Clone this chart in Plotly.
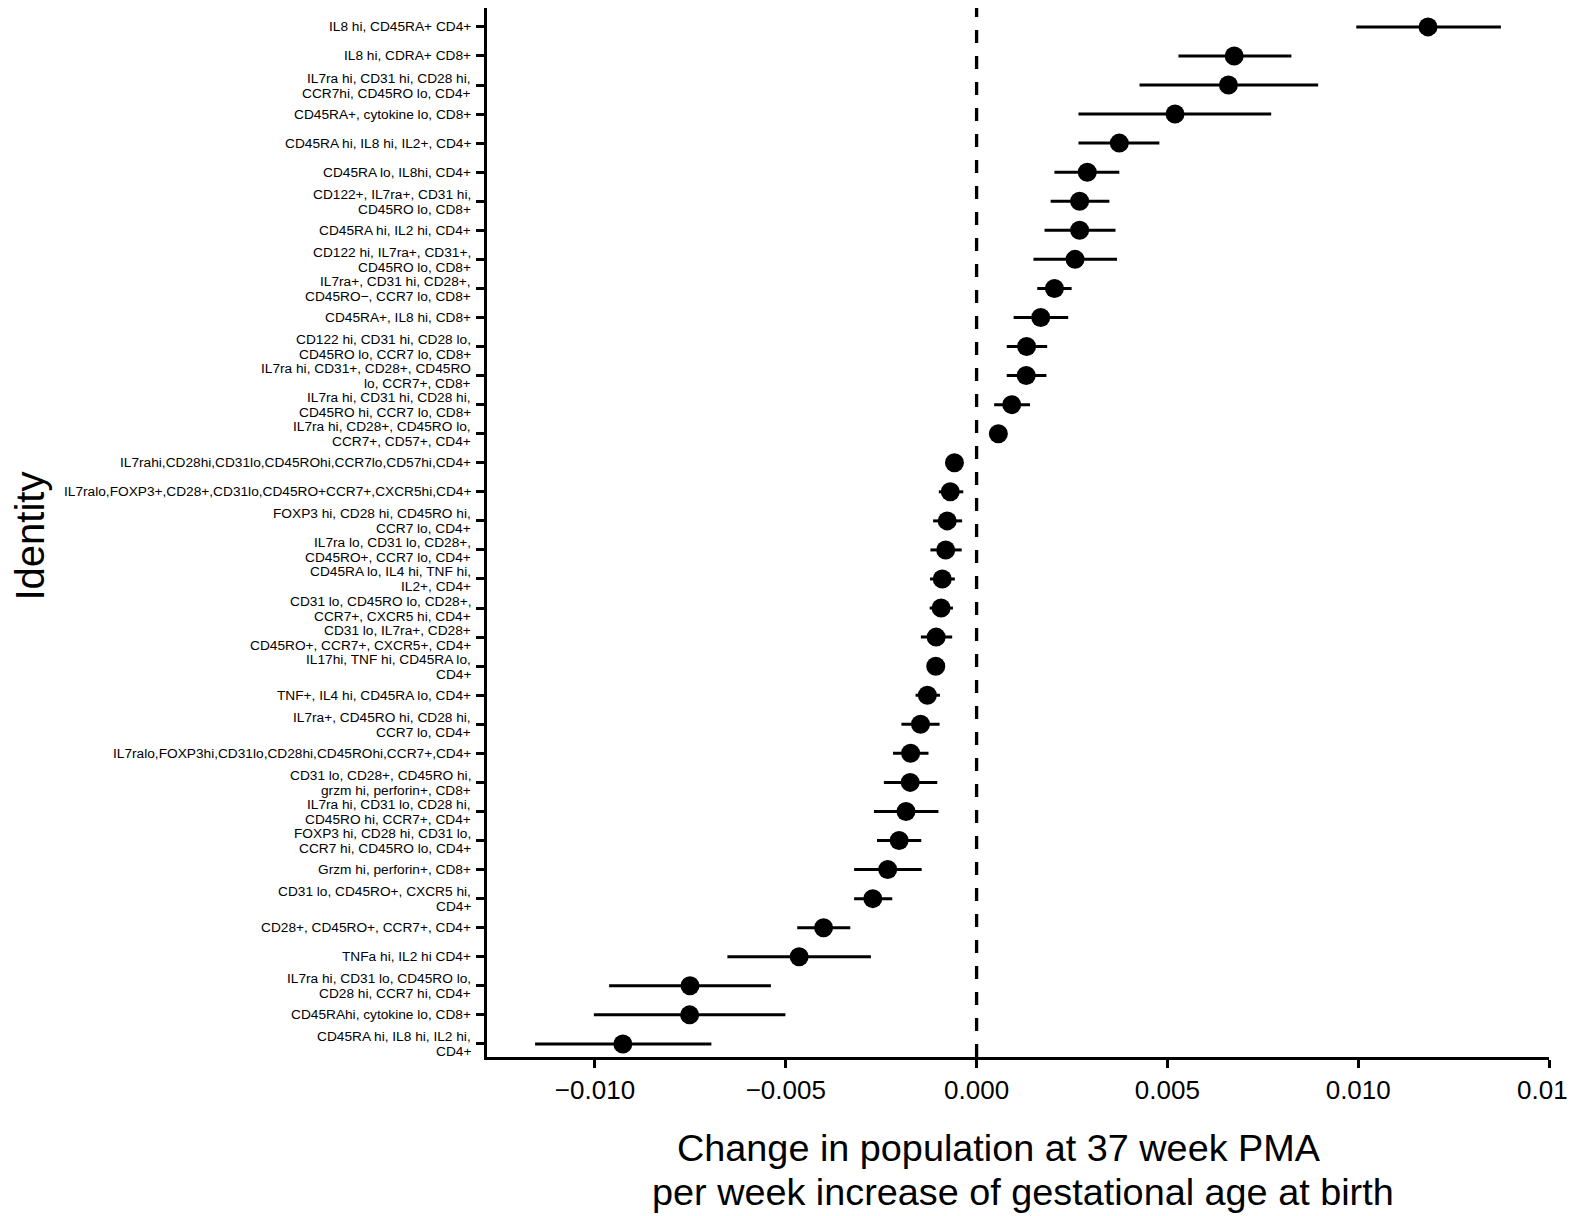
import plotly.graph_objects as go

labels = [
    "IL8 hi, CD45RA+ CD4+",
    "IL8 hi, CDRA+ CD8+",
    "IL7ra hi, CD31 hi, CD28 hi,<br>CCR7hi, CD45RO lo, CD4+",
    "CD45RA+, cytokine lo, CD8+",
    "CD45RA hi, IL8 hi, IL2+, CD4+",
    "CD45RA lo, IL8hi, CD4+",
    "CD122+, IL7ra+, CD31 hi,<br>CD45RO lo, CD8+",
    "CD45RA hi, IL2 hi, CD4+",
    "CD122 hi, IL7ra+, CD31+,<br>CD45RO lo, CD8+",
    "IL7ra+, CD31 hi, CD28+,<br>CD45RO−, CCR7 lo, CD8+",
    "CD45RA+, IL8 hi, CD8+",
    "CD122 hi, CD31 hi, CD28 lo,<br>CD45RO lo, CCR7 lo, CD8+",
    "IL7ra hi, CD31+, CD28+, CD45RO<br>lo, CCR7+, CD8+",
    "IL7ra hi, CD31 hi, CD28 hi,<br>CD45RO hi, CCR7 lo, CD8+",
    "IL7ra hi, CD28+, CD45RO lo,<br>CCR7+, CD57+, CD4+",
    "IL7rahi,CD28hi,CD31lo,CD45ROhi,CCR7lo,CD57hi,CD4+",
    "IL7ralo,FOXP3+,CD28+,CD31lo,CD45RO+CCR7+,CXCR5hi,CD4+",
    "FOXP3 hi, CD28 hi, CD45RO hi,<br>CCR7 lo, CD4+",
    "IL7ra lo, CD31 lo, CD28+,<br>CD45RO+, CCR7 lo, CD4+",
    "CD45RA lo, IL4 hi, TNF hi,<br>IL2+, CD4+",
    "CD31 lo, CD45RO lo, CD28+,<br>CCR7+, CXCR5 hi, CD4+",
    "CD31 lo, IL7ra+, CD28+<br>CD45RO+, CCR7+, CXCR5+, CD4+",
    "IL17hi, TNF hi, CD45RA lo,<br>CD4+",
    "TNF+, IL4 hi, CD45RA lo, CD4+",
    "IL7ra+, CD45RO hi, CD28 hi,<br>CCR7 lo, CD4+",
    "IL7ralo,FOXP3hi,CD31lo,CD28hi,CD45ROhi,CCR7+,CD4+",
    "CD31 lo, CD28+, CD45RO hi,<br>grzm hi, perforin+, CD8+",
    "IL7ra hi, CD31 lo, CD28 hi,<br>CD45RO hi, CCR7+, CD4+",
    "FOXP3 hi, CD28 hi, CD31 lo,<br>CCR7 hi, CD45RO lo, CD4+",
    "Grzm hi, perforin+, CD8+",
    "CD31 lo, CD45RO+, CXCR5 hi,<br>CD4+",
    "CD28+, CD45RO+, CCR7+, CD4+",
    "TNFa hi, IL2 hi CD4+",
    "IL7ra hi, CD31 lo, CD45RO lo,<br>CD28 hi, CCR7 hi, CD4+",
    "CD45RAhi, cytokine lo, CD8+",
    "CD45RA hi, IL8 hi, IL2 hi,<br>CD4+",
]

estimate = [
    0.01183, 0.00675, 0.00660, 0.00520, 0.00374, 0.00290, 0.00270, 0.00270,
    0.00258, 0.00204, 0.00168, 0.00131, 0.00130, 0.00092, 0.00057, -0.00058,
    -0.00069, -0.00077, -0.00081, -0.00090, -0.00093, -0.00106, -0.00107,
    -0.00129, -0.00147, -0.00173, -0.00174, -0.00185, -0.00203, -0.00233,
    -0.00272, -0.00401, -0.00465, -0.00751, -0.00752, -0.00927,
]
lower = [
    0.00995, 0.00529, 0.00427, 0.00267, 0.00267, 0.00204, 0.00194, 0.00178,
    0.00149, 0.00159, 0.00097, 0.00079, 0.00079, 0.00046, 0.00040, -0.00075,
    -0.00099, -0.00114, -0.00121, -0.00122, -0.00123, -0.00146, -0.00124,
    -0.00160, -0.00197, -0.00219, -0.00243, -0.00269, -0.00261, -0.00321,
    -0.00321, -0.00470, -0.00653, -0.00963, -0.01003, -0.01157,
]
upper = [
    0.01374, 0.00825, 0.00895, 0.00772, 0.00479, 0.00374, 0.00348, 0.00364,
    0.00368, 0.00249, 0.00240, 0.00185, 0.00183, 0.00140, 0.00074, -0.00041,
    -0.00035, -0.00038, -0.00039, -0.00057, -0.00062, -0.00064, -0.00090,
    -0.00096, -0.00097, -0.00126, -0.00103, -0.00100, -0.00145, -0.00144,
    -0.00221, -0.00331, -0.00277, -0.00539, -0.00501, -0.00695,
]

x_ticks = [-0.010, -0.005, 0.000, 0.005, 0.010, 0.015]
x_ticktext = ["−0.010", "−0.005", "0.000", "0.005", "0.010", "0.015"]

x_title_lines = ["Change in population at 37 week PMA",
                 "per week increase of gestational age at birth"]
y_title = "Identity"

FONT = "Liberation Sans, Arial, Helvetica, sans-serif"
LABEL_SIZE = 13.7
TICK_SIZE = 26

err_plus = [u - e for u, e in zip(upper, estimate)]
err_minus = [e - l for e, l in zip(estimate, lower)]

fig = go.Figure()
fig.add_trace(go.Scatter(
    x=estimate,
    y=labels,
    mode="markers",
    marker=dict(color="black", size=19),
    error_x=dict(type="data", symmetric=False, array=err_plus,
                 arrayminus=err_minus, color="black", thickness=3, width=0),
    showlegend=False,
    hoverinfo="x+y",
))

fig.add_shape(type="line", xref="x", yref="paper", x0=0, x1=0, y0=0, y1=1,
              line=dict(color="black", width=3.3, dash="13px,13px"), layer="below")

# category tick labels drawn as annotations (tight line spacing like the original)
annotations = []
for lab in labels:
    parts = lab.split("<br>")
    shifts = [0] if len(parts) == 1 else [7, -8]
    for part, ys in zip(parts, shifts):
        annotations.append(dict(
            text=part, xref="paper", yref="y", x=0, y=lab,
            xanchor="right", yanchor="middle", xshift=-14, yshift=ys,
            showarrow=False, align="right",
            font=dict(size=LABEL_SIZE, family=FONT, color="black"),
        ))

# last x tick label sits on the page edge (partly cut off, as in the original)
annotations.append(dict(
    text=x_ticktext[-1], xref="x", yref="paper", x=x_ticks[-1], y=0,
    xanchor="center", yanchor="middle", yshift=-33,
    showarrow=False, font=dict(size=TICK_SIZE, family=FONT, color="black"),
))

# y-axis title
annotations.append(dict(
    text=y_title, xref="paper", yref="paper", x=0, y=0.5,
    xanchor="center", yanchor="middle", xshift=-458, yshift=-4, textangle=-90,
    showarrow=False, font=dict(size=40, family=FONT, color="black"),
))

# x-axis title (two lines)
for line, xc, ys in zip(x_title_lines, [0.4821, 0.5047], [-91, -135]):
    annotations.append(dict(
        text=line, xref="paper", yref="paper", x=xc, y=0,
        xanchor="center", yanchor="middle", yshift=ys,
        showarrow=False, font=dict(size=37.8, family=FONT, color="black"),
    ))

fig.update_layout(
    width=1568, height=1208,
    margin=dict(l=479, r=27, t=0, b=159),
    plot_bgcolor="white", paper_bgcolor="white",
    font=dict(family=FONT, color="black"),
    annotations=annotations,
    xaxis=dict(
        range=[-0.01283, 0.015],
        tickvals=x_ticks, ticktext=x_ticktext[:-1] + [""],
        showgrid=False, zeroline=False,
        showline=True, linecolor="black", linewidth=3,
        ticks="outside", ticklen=8, tickwidth=3, tickcolor="black",
        tickfont=dict(size=TICK_SIZE, family=FONT, color="black"),
    ),
    yaxis=dict(
        type="category",
        categoryorder="array", categoryarray=labels,
        range=[35.45, -0.65],
        showgrid=False, zeroline=False,
        showline=True, linecolor="black", linewidth=3,
        ticks="outside", ticklen=8, tickwidth=3, tickcolor="black",
        showticklabels=False,
    ),
)

fig.write_html("out.html")
